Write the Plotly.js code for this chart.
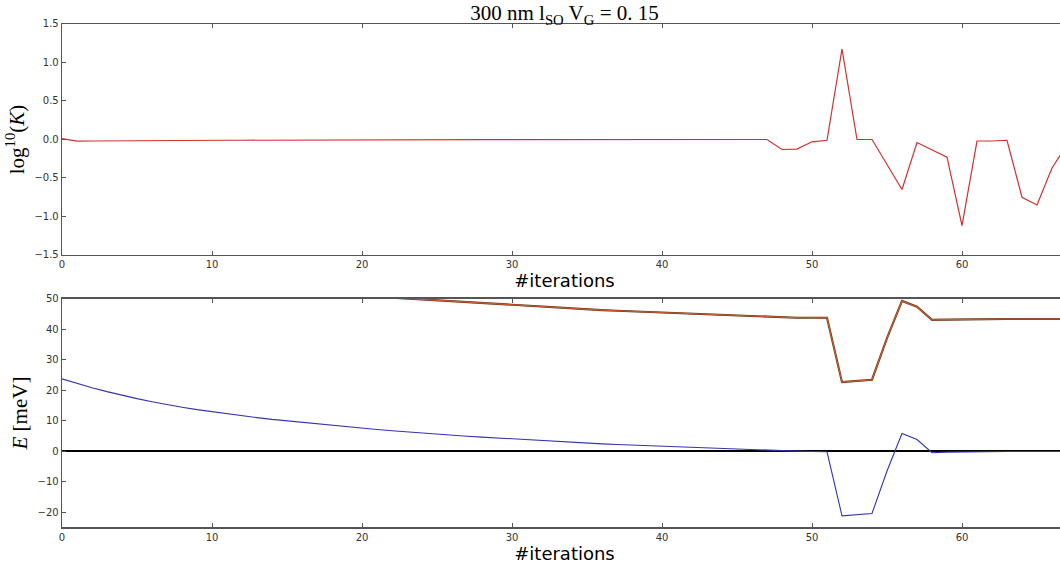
<!DOCTYPE html>
<html>
<head>
<meta charset="utf-8">
<script src="https://cdn.plot.ly/plotly-3.0.1.min.js"></script>
<style>
html, body { margin: 0; padding: 0; overflow: hidden; background: #fff; }
#chart { width: 1067px; height: 567px; }
</style>
</head>
<body>
<div id="chart"></div>
<script>
// ---- data ----
const iterations = [];
for (let i = 0; i <= 67; i++) iterations.push(i);

const log10K = [
  0.01, -0.022, -0.02, -0.018, -0.017, -0.016, -0.015, -0.014, -0.013, -0.012,
  -0.011, -0.010, -0.010, -0.009, -0.009, -0.008, -0.008, -0.007, -0.007, -0.006,
  -0.006, -0.005, -0.005, -0.005, -0.004, -0.004, -0.004, -0.003, -0.003, -0.003,
  -0.003, -0.002, -0.002, -0.002, -0.002, -0.002, -0.001, -0.001, -0.001, -0.001,
  -0.001, -0.001, 0.0, 0.0, 0.0, 0.0, 0.0, 0.0, -0.13, -0.125,
  -0.03, -0.01, 1.175, 0.0, 0.0, -0.32, -0.65, -0.04, -0.13, -0.23,
  -1.12, -0.02, -0.02, -0.01, -0.75, -0.85, -0.37, -0.07
];

const energyLow = [
  23.7, 22.2, 20.8, 19.5, 18.3, 17.2, 16.2, 15.2, 14.4, 13.6,
  12.9, 12.2, 11.6, 11.0, 10.4, 9.9, 9.4, 8.9, 8.4, 8.0,
  7.5, 7.1, 6.7, 6.3, 5.9, 5.6, 5.2, 4.9, 4.6, 4.3,
  4.0, 3.7, 3.4, 3.2, 2.9, 2.7, 2.4, 2.2, 2.0, 1.8,
  1.6, 1.4, 1.2, 1.0, 0.8, 0.6, 0.4, 0.2, 0.1, 0.0,
  -0.1, -0.2, -21.2, -20.8, -20.4, -6.5, 5.8, 3.8, -0.5, -0.3,
  -0.2, -0.1, -0.1, -0.1, -0.1, -0.1, -0.1, -0.1
];

const iterationsHigh = [];
for (let i = 22; i <= 67; i++) iterationsHigh.push(i);
const energyHigh = [
  50.3, 50.0, 49.6, 49.3, 49.0, 48.7, 48.4, 48.1, 47.8, 47.5,
  47.2, 47.0, 46.7, 46.5, 46.2, 46.0, 45.8, 45.5, 45.3, 45.1,
  44.9, 44.7, 44.5, 44.3, 44.1, 43.9, 43.8, 43.7, 43.7, 43.7,
  22.6, 23.0, 23.4, 37.0, 49.2, 47.3, 43.0, 43.1, 43.2, 43.3,
  43.3, 43.3, 43.3, 43.3, 43.3, 43.3
];

// ---- chart ----
const tickFont = { family: 'DejaVu Sans', size: 10, color: '#333' };
const axisCommon = {
  showgrid: false, zeroline: false, showline: true, linecolor: '#555', linewidth: 1.3,
  mirror: 'ticks', ticks: 'inside', ticklen: 4, tickcolor: '#555', tickwidth: 1,
  tickfont: tickFont
};

const traces = [
  { x: iterations, y: log10K, xaxis: 'x', yaxis: 'y', mode: 'lines',
    line: { color: '#d42f2f', width: 1.2 }, hoverinfo: 'skip' },
  { x: iterationsHigh, y: energyHigh, xaxis: 'x2', yaxis: 'y2', mode: 'lines',
    line: { color: '#5e3a1a', width: 2.1 }, hoverinfo: 'skip' },
  { x: iterationsHigh, y: energyHigh, xaxis: 'x2', yaxis: 'y2', mode: 'lines',
    line: { color: '#cf5a30', width: 1.1 }, hoverinfo: 'skip' },
  { x: iterations, y: energyLow, xaxis: 'x2', yaxis: 'y2', mode: 'lines',
    line: { color: '#3434b0', width: 1.1 }, hoverinfo: 'skip' }
];

const layout = {
  width: 1067, height: 567,
  margin: { l: 62, r: 0, t: 0, b: 0 },
  paper_bgcolor: '#fff', plot_bgcolor: '#fff',
  showlegend: false,
  title: {
    text: '300 nm l<sub>SO</sub> V<sub>G</sub> = 0. 15',
    font: { family: 'Liberation Serif', size: 21, color: '#000' },
    x: 0.5, xref: 'paper', xanchor: 'center',
    y: 0.977, yref: 'container', yanchor: 'middle'
  },
  xaxis: Object.assign({}, axisCommon, {
    domain: [0, 1], anchor: 'y', range: [0, 67], dtick: 10, tick0: 0,
    title: { text: '#iterations', font: { family: 'DejaVu Sans', size: 18, color: '#000' }, standoff: 0 }
  }),
  yaxis: Object.assign({}, axisCommon, {
    domain: [0.5503, 0.9577], anchor: 'x', range: [-1.5, 1.5], dtick: 0.5, tickformat: '.1f',
    title: { text: 'log<sup>10</sup>(<i>K</i>)', font: { family: 'Liberation Serif', size: 21, color: '#000' }, standoff: 4 }
  }),
  xaxis2: Object.assign({}, axisCommon, {
    domain: [0, 1], anchor: 'y2', range: [0, 67], dtick: 10, tick0: 0,
    title: { text: '#iterations', font: { family: 'DejaVu Sans', size: 18, color: '#000' }, standoff: 1 }
  }),
  yaxis2: Object.assign({}, axisCommon, {
    domain: [0.0697, 0.4735], anchor: 'x2', range: [-25, 50], dtick: 10,
    zeroline: true, zerolinecolor: '#000', zerolinewidth: 2.2,
    title: { text: '<i>E</i> [meV]', font: { family: 'Liberation Serif', size: 21, color: '#000' }, standoff: 4 }
  })
};

Plotly.newPlot('chart', traces, layout, { staticPlot: true, displayModeBar: false });
</script>
</body>
</html>
